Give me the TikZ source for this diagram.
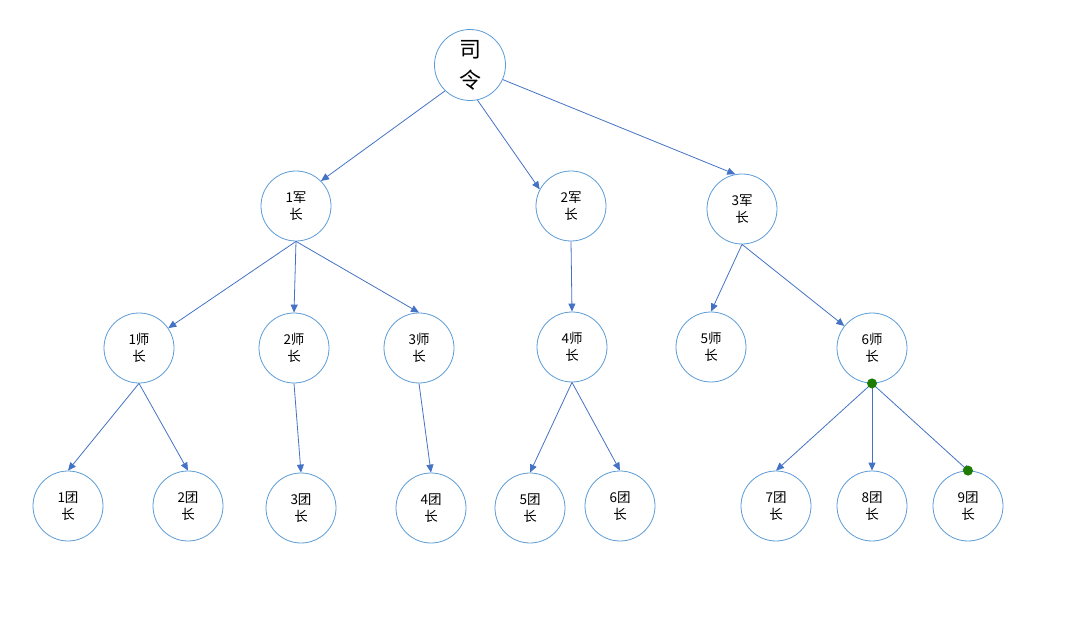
\documentclass[tikz,border=0pt]{standalone}
\usepackage{fontspec}
\setmainfont{Noto Sans CJK SC}
\usetikzlibrary{arrows.meta}
\definecolor{ringblue}{RGB}{91,155,213}
\definecolor{edgeblue}{RGB}{68,114,196}
\definecolor{handlegreen}{RGB}{30,125,0}

\tikzset{
    rank/.style={circle, draw=ringblue, line width=0.8pt, minimum size=70pt, inner sep=0pt,
        align=center, font=\fontsize{13.5}{17.5}\selectfont},
    link/.style={draw=edgeblue, line width=0.8pt, -{Triangle[length=8pt,width=7pt]}},
    handle/.style={circle, fill=handlegreen, inner sep=0pt, minimum size=10pt}
}

\begin{document}
\begin{tikzpicture}[x=1pt, y=-1pt]
            \useasboundingbox (0,0) rectangle (1074,628);
            % top
            \node[rank, minimum size=71pt, font=\fontsize{22}{31}\selectfont] (boss) at (470,65) {司\\令};
            % armies
            \node[rank] (army1) at (296,206) {1军\\长};
            \node[rank] (army2) at (571,206) {2军\\长};
            \node[rank] (army3) at (742,209) {3军\\长};
            % divisions
            \node[rank] (div1) at (139,348) {1师\\长};
            \node[rank] (div2) at (294,348) {2师\\长};
            \node[rank] (div3) at (419,348) {3师\\长};
            \node[rank] (div4) at (572,347) {4师\\长};
            \node[rank] (div5) at (711,347) {5师\\长};
            \node[rank] (div6) at (872,348) {6师\\长};
            % regiments
            \node[rank] (reg1) at (68,506) {1团\\长};
            \node[rank] (reg2) at (188,506) {2团\\长};
            \node[rank] (reg3) at (301,508) {3团\\长};
            \node[rank] (reg4) at (431,508) {4团\\长};
            \node[rank] (reg5) at (530,508) {5团\\长};
            \node[rank] (reg6) at (620,506) {6团\\长};
            \node[rank] (reg7) at (776,506) {7团\\长};
            \node[rank] (reg8) at (872,506) {8团\\长};
            \node[rank] (reg9) at (968,506) {9团\\长};

            \draw[link] (boss.-134) -- (army1.45);
            \draw[link] (boss.-78) -- (army2.152);
            \draw[link] (boss.-24) -- (army3.101);

            \draw[link] (army1.south) -- (div1);
            \draw[link] (army1.south) -- (div2.north);
            \draw[link] (army1.south) -- (div3.north);
            \draw[link] (army2.south) -- (div4.north);
            \draw[link] (army3.south) -- (div5.north);
            \draw[link] (army3.south) -- (div6);

            \draw[link] (div1.south) -- (reg1.north);
            \draw[link] (div1.south) -- (reg2.north);
            \draw[link] (div2.south) -- (reg3.north);
            \draw[link] (div3.south) -- (reg4.north);
            \draw[link] (div4.south) -- (reg5.north);
            \draw[link] (div4.south) -- (reg6.north);
            \draw[link] (div6.south) -- (reg7.north);
            \draw[link] (div6.south) -- (reg8.north);
            \draw[link, -{Bar[width=6pt]}, shorten >=4pt] (div6.south) -- (reg9.north);

            % selection handles
            \node[handle] (grip1) at (div6.south) {};
            \node[handle] (grip2) at (reg9.north) {};
        \end{tikzpicture}
\end{document}
